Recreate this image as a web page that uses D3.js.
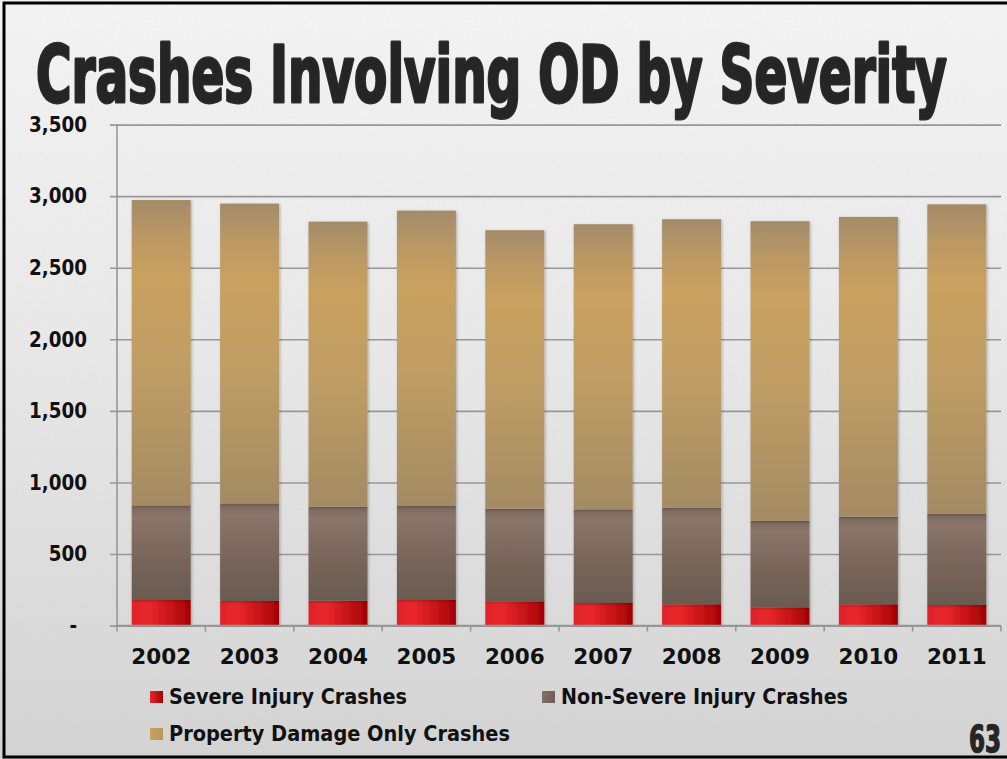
<!DOCTYPE html>
<html>
<head>
<meta charset="utf-8">
<script src="https://cdn.jsdelivr.net/npm/d3@7"></script>
<style>
  html, body { margin: 0; padding: 0; overflow: hidden; background: #ffffff; }
  svg { display: block; }
</style>
</head>
<body>
<svg id="chart" width="1007" height="759"></svg>
<script>
// Crash counts per year, stacked from the bottom up
const years = ["2002", "2003", "2004", "2005", "2006", "2007", "2008", "2009", "2010", "2011"];
const severeInjury = [179, 172, 174, 179, 170, 158, 149, 128, 149, 144];
const nonSevereInjury = [661, 682, 657, 657, 647, 654, 675, 603, 612, 638];
const propertyDamageOnly = [2133, 2094, 1991, 2063, 1945, 1992, 2015, 2094, 2094, 2161];
const seriesNames = ["Severe Injury Crashes", "Non-Severe Injury Crashes", "Property Damage Only Crashes"];
const yTickValues = [0, 500, 1000, 1500, 2000, 2500, 3000, 3500];
const titleText = "Crashes Involving OD by Severity";
const pageNumber = "63";

const svg = d3.select("#chart");
const W = 1007, H = 759;
const defs = svg.append("defs");

// Squeeze a text element horizontally so it spans the given width
function fitText(sel, width) {
  const w = sel.node().getComputedTextLength();
  if (w > 0) sel.attr("textLength", width).attr("lengthAdjust", "spacingAndGlyphs");
}

// ---- background paper ----
const bg = defs.append("linearGradient").attr("id", "bgGrad")
  .attr("x1", 0).attr("y1", 0).attr("x2", 0).attr("y2", 1);
bg.append("stop").attr("offset", 0).attr("stop-color", "#f4f4f4");
bg.append("stop").attr("offset", 0.45).attr("stop-color", "#e9e9e9");
bg.append("stop").attr("offset", 1).attr("stop-color", "#d4d4d4");

const grain = defs.append("filter").attr("id", "grain")
  .attr("x", 0).attr("y", 0).attr("width", "100%").attr("height", "100%");
grain.append("feTurbulence").attr("type", "fractalNoise")
  .attr("baseFrequency", 0.8).attr("numOctaves", 2).attr("seed", 7).attr("result", "n");
grain.append("feColorMatrix").attr("in", "n").attr("type", "matrix")
  .attr("values", "0 0 0 0 0.5  0 0 0 0 0.5  0 0 0 0 0.5  0 0 0 -1.6 1.05");

svg.append("rect").attr("width", W).attr("height", H).attr("fill", "url(#bgGrad)");
svg.append("rect").attr("width", W).attr("height", H)
  .attr("filter", "url(#grain)").attr("opacity", 0.10);

// ---- bar fills ----
function vGrad(id, stops) {
  const g = defs.append("linearGradient").attr("id", id)
    .attr("x1", 0).attr("y1", 0).attr("x2", 0).attr("y2", 1);
  stops.forEach(([o, c]) => g.append("stop").attr("offset", o).attr("stop-color", c));
}
function hGrad(id, stops) {
  const g = defs.append("linearGradient").attr("id", id)
    .attr("x1", 0).attr("y1", 0).attr("x2", 1).attr("y2", 0);
  stops.forEach(([o, c]) => g.append("stop").attr("offset", o).attr("stop-color", c));
}
vGrad("tanFill", [[0, "#a38b68"], [0.12, "#bb9865"], [0.25, "#c9a15f"], [0.55, "#bf9d65"], [1, "#a48b64"]]);
vGrad("brownFill", [[0, "#7b685d"], [0.12, "#8a756a"], [0.5, "#7a675c"], [1, "#6a5a50"]]);
hGrad("redFill", [[0, "#e0232a"], [0.3, "#e8272b"], [0.7, "#c41214"], [1, "#a30103"]]);
hGrad("legendTan", [[0, "#c9a15f"], [1, "#b8975f"]]);
hGrad("legendBrown", [[0, "#84706a"], [1, "#6e5d54"]]);
hGrad("legendRed", [[0, "#e8272b"], [1, "#a30103"]]);

const shadow = defs.append("filter").attr("id", "barShadow")
  .attr("x", "-20%").attr("y", "-5%").attr("width", "140%").attr("height", "110%");
shadow.append("feDropShadow").attr("dx", 1).attr("dy", 1).attr("stdDeviation", 1.5)
  .attr("flood-color", "#000").attr("flood-opacity", 0.28);

// ---- frame ----
svg.append("path")
  .attr("d", `M${W + 5},3 H4 V757 H${W + 5}`)
  .attr("fill", "none").attr("stroke", "#000").attr("stroke-width", 3);

// ---- title ----
const condensed = "'Liberation Sans Narrow', 'DejaVu Sans Condensed', 'Liberation Sans', sans-serif";
const title = svg.append("text")
  .attr("x", 0).attr("y", 102)
  .attr("font-family", condensed)
  .attr("font-weight", "bold")
  .attr("font-size", 78)
  .attr("fill", "#252525")
  .attr("stroke", "#2e2e2e").attr("stroke-width", 3).attr("stroke-linejoin", "round")
  .attr("paint-order", "stroke")
  .text(titleText);
{
  const tw = title.node().getComputedTextLength();
  title.attr("transform", `translate(36,0) scale(${(947 - 36) / tw},1)`);
}

// ---- scales ----
const plotLeft = 117, plotRight = 1001;
const x = d3.scaleBand().domain(years).range([plotLeft, plotRight])
  .paddingInner(0.333).paddingOuter(0.1665);
const y = d3.scaleLinear().domain([0, 3500]).range([625.6, 124.6]);

const labelFont = "'DejaVu Sans', 'Liberation Sans', sans-serif";

// ---- y axis with gridlines ----
const yAxis = d3.axisLeft(y)
  .tickValues(yTickValues)
  .tickSize(plotRight - 110)
  .tickPadding(23)
  .tickFormat(d => d === 0 ? "-" : d3.format(",")(d));
const yG = svg.append("g").attr("transform", `translate(${plotRight},0)`).call(yAxis);
yG.select(".domain").remove();
yG.selectAll(".tick line").attr("stroke", "#979797").attr("stroke-width", 1.6);
const yLabels = yG.selectAll(".tick text")
  .attr("font-family", labelFont).attr("font-weight", "bold")
  .attr("font-size", 21).attr("fill", "#111")
  .attr("dx", d => d === 0 ? -10 : 0);
{
  // condense the tick labels so "3,500" spans about 58px
  const ref = yLabels.filter(d => d === 3500).node().getComputedTextLength();
  const k = Math.min(1, 58 / ref);
  yLabels.each(function () {
    const t = d3.select(this);
    t.attr("textLength", this.getComputedTextLength() * k).attr("lengthAdjust", "spacingAndGlyphs");
  });
}

svg.append("line")
  .attr("x1", plotLeft).attr("x2", plotLeft)
  .attr("y1", y(3500)).attr("y2", y(0))
  .attr("stroke", "#979797").attr("stroke-width", 1.6);

// ---- stacked bars ----
const rows = years.map((yr, i) => ({
  year: yr,
  severe: severeInjury[i],
  nonSevere: nonSevereInjury[i],
  pdo: propertyDamageOnly[i]
}));
const stack = d3.stack().keys(["severe", "nonSevere", "pdo"]);
const layers = stack(rows);
const fills = ["url(#redFill)", "url(#brownFill)", "url(#tanFill)"];

const barsG = svg.append("g");
layers.forEach((layer, li) => {
  barsG.append("g").attr("filter", "url(#barShadow)")
    .selectAll("rect").data(layer).join("rect")
    .attr("x", d => x(d.data.year))
    .attr("width", x.bandwidth())
    .attr("y", d => y(d[1]))
    .attr("height", d => y(d[0]) - y(d[1]))
    .attr("fill", fills[li]);
});

// ---- x axis ----
const xAxis = d3.axisBottom(x).tickSize(0).tickPadding(0);
const xG = svg.append("g").attr("transform", `translate(0,${y(0)})`).call(xAxis);
xG.select(".domain").attr("stroke", "#979797").attr("stroke-width", 1.6)
  .attr("d", `M${plotLeft},0H${plotRight}`);
xG.selectAll(".tick text")
  .attr("font-family", labelFont).attr("font-weight", "bold")
  .attr("font-size", 21.5).attr("fill", "#111")
  .attr("y", 664 - y(0)).attr("dy", 0);

const boundaries = d3.range(years.length + 1).map(i => plotLeft + i * x.step());
xG.selectAll("line.sep").data(boundaries).join("line").attr("class", "sep")
  .attr("x1", d => d).attr("x2", d => d)
  .attr("y1", 0).attr("y2", 6)
  .attr("stroke", "#979797").attr("stroke-width", 1.6);

// ---- legend ----
const legendItems = [
  { name: seriesNames[0], fill: "url(#legendRed)", x: 150, y: 691, w: 238 },
  { name: seriesNames[1], fill: "url(#legendBrown)", x: 542, y: 691, w: 287 },
  { name: seriesNames[2], fill: "url(#legendTan)", x: 150, y: 728, w: 341 }
];
const lg = svg.append("g").selectAll("g").data(legendItems).join("g")
  .attr("transform", d => `translate(${d.x},${d.y})`);
lg.append("rect").attr("width", 13).attr("height", 12).attr("fill", d => d.fill);
lg.append("text")
  .attr("x", 19).attr("y", 13)
  .attr("font-family", "'DejaVu Sans Condensed', 'DejaVu Sans', sans-serif")
  .attr("font-weight", "bold").attr("font-size", 21).attr("fill", "#111")
  .text(d => d.name)
  .each(function (d) { fitText(d3.select(this), d.w); });

// ---- page number ----
const pn = svg.append("text")
  .attr("x", 0).attr("y", 752.5)
  .attr("font-family", condensed)
  .attr("font-weight", "bold").attr("font-size", 37)
  .attr("fill", "#252525").attr("stroke", "#2e2e2e").attr("stroke-width", 1.5)
  .attr("stroke-linejoin", "round").attr("paint-order", "stroke")
  .text(pageNumber);
{
  const pw = pn.node().getComputedTextLength();
  pn.attr("transform", `translate(969,0) scale(${32 / pw},1)`);
}
</script>
</body>
</html>
